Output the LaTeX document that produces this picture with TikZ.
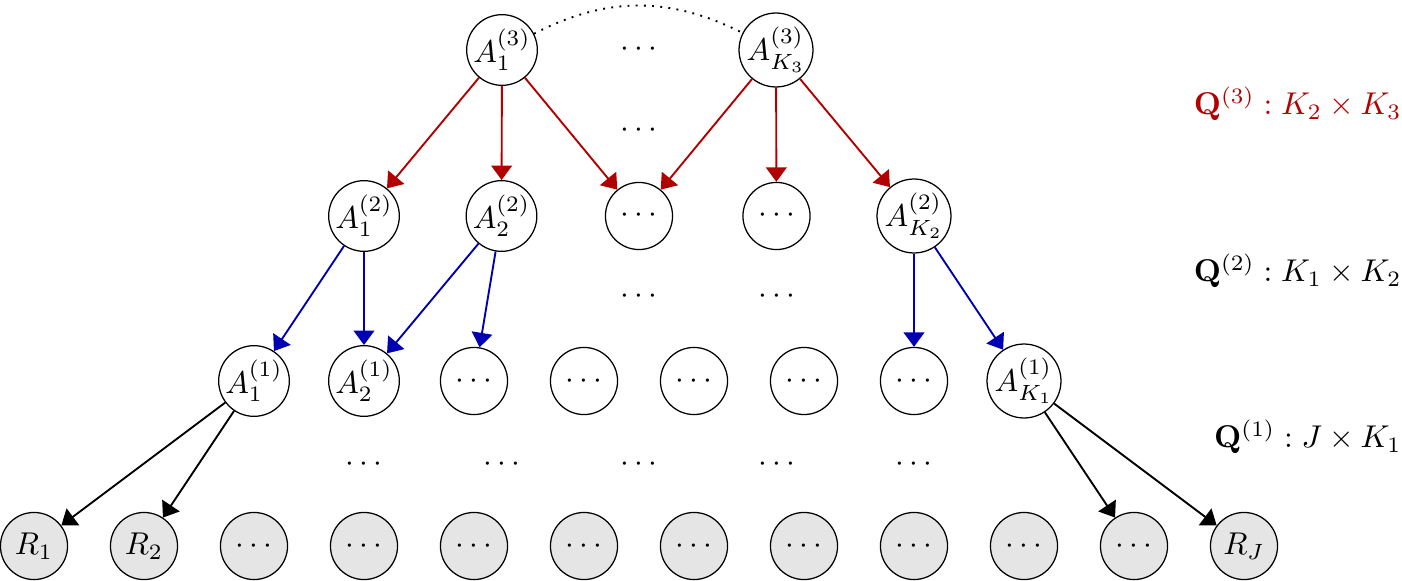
\documentclass[tikz,border=0pt]{standalone}
\usetikzlibrary{arrows.meta}
\definecolor{qred}{RGB}{178,0,0}
\definecolor{qblue}{RGB}{0,0,178}
\definecolor{rfill}{RGB}{229,229,229}
\begin{document}
\begin{tikzpicture}[x=0.3175pt,y=-0.3175pt,
  lat/.style={circle,draw,line width=0.4pt,minimum size=21.3pt,inner sep=0pt},
  obs/.style={lat,fill=rfill},
  edge/.style={line width=0.6pt,-{Triangle[length=4.6pt,width=6.6pt]}},
  redge/.style={edge,draw=qred,fill=qred},
  bedge/.style={edge,draw=qblue,fill=qblue},
  kedge/.style={edge,draw=black},
  lbl/.style={anchor=east,inner sep=0pt}]
\useasboundingbox (0,0) rectangle (1402,581);
% row 3
\node[lat] (a31) at (502,50) {$A_1^{(3)}$};
\node (d3) at (639,50) {$\cdots$};
\node[lat] (a3k) at (776,50) {$A_{K_3}^{(3)}$};
% row 2
\node[lat] (a21) at (364,216) {$A_1^{(2)}$};
\node[lat] (a22) at (501.5,216) {$A_2^{(2)}$};
\node[lat] (a23) at (639,216) {$\cdots$};
\node[lat] (a24) at (776.5,216) {$\cdots$};
\node[lat] (a2k) at (914,216) {$A_{K_2}^{(2)}$};
% row 1
\node[lat] (a11) at (254,381) {$A_1^{(1)}$};
\node[lat] (a12) at (364,381) {$A_2^{(1)}$};
\node[lat] (a13) at (474,381) {$\cdots$};
\node[lat] (a14) at (584,381) {$\cdots$};
\node[lat] (a15) at (694,381) {$\cdots$};
\node[lat] (a16) at (804,381) {$\cdots$};
\node[lat] (a17) at (914,381) {$\cdots$};
\node[lat] (a1k) at (1024,381) {$A_{K_1}^{(1)}$};
% row 0
\node[obs] (r1) at (34,546) {$R_1$};
\node[obs] (r2) at (144,546) {$R_2$};
\node[obs] (r3) at (254,546) {$\cdots$};
\node[obs] (r4) at (364,546) {$\cdots$};
\node[obs] (r5) at (474,546) {$\cdots$};
\node[obs] (r6) at (584,546) {$\cdots$};
\node[obs] (r7) at (694,546) {$\cdots$};
\node[obs] (r8) at (804,546) {$\cdots$};
\node[obs] (r9) at (914,546) {$\cdots$};
\node[obs] (r10) at (1024,546) {$\cdots$};
\node[obs] (r11) at (1134,546) {$\cdots$};
\node[obs] (rj) at (1244,546) {$R_J$};
% in-between dots
\node (m3) at (639,131) {$\cdots$};
\node (m21) at (639,297) {$\cdots$};
\node (m22) at (776.5,297) {$\cdots$};
\node (m11) at (364,464) {$\cdots$};
\node (m12) at (501.5,464) {$\cdots$};
\node (m13) at (639,464) {$\cdots$};
\node (m14) at (776.5,464) {$\cdots$};
\node (m15) at (914,464) {$\cdots$};
% labels
\node[lbl,text=qred] (q3) at (1402,104) {$\mathbf{Q}^{(3)}:K_2\times K_3$};
\node[lbl] (q2) at (1402,271) {$\mathbf{Q}^{(2)}:K_1\times K_2$};
\node[lbl] (q1) at (1402,437) {$\mathbf{Q}^{(1)}:J\times K_1$};
% dotted arc
\draw[dotted,line width=0.6pt] (a31) to[bend left=27] (a3k);
% red edges
\draw[redge] (a31) -- (a21);
\draw[redge] (a31) -- (a22);
\draw[redge] (a31) -- (a23);
\draw[redge] (a3k) -- (a23);
\draw[redge] (a3k) -- (a24);
\draw[redge] (a3k) -- (a2k);
% blue edges
\draw[bedge] (a21) -- (a11);
\draw[bedge] (a21) -- (a12);
\draw[bedge] (a22) -- (a12);
\draw[bedge] (a22) -- (a13);
\draw[bedge] (a2k) -- (a17);
\draw[bedge] (a2k) -- (a1k);
% black edges
\draw[kedge] (a11) -- (r1);
\draw[kedge] (a11) -- (r2);
\draw[kedge] (a1k) -- (r11);
\draw[kedge] (a1k) -- (rj);
\end{tikzpicture}
\end{document}
